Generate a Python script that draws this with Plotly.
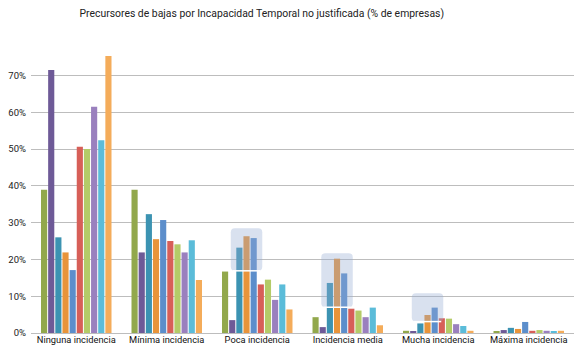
import plotly.graph_objects as go

categories = ["Ninguna incidencia", "Mínima incidencia", "Poca incidencia",
              "Incidencia media", "Mucha incidencia", "Máxima incidencia"]

series_values = [
    [38.9, 38.9, 16.7, 4.3, 0.6, 0.4],
    [71.5, 21.9, 3.5, 1.6, 0.4, 0.8],
    [26.0, 32.3, 23.2, 13.6, 2.6, 1.4],
    [21.9, 25.5, 26.3, 20.2, 4.9, 1.1],
    [17.1, 30.7, 25.8, 16.2, 6.9, 3.0],
    [50.6, 25.0, 13.2, 6.6, 4.0, 0.6],
    [50.0, 24.1, 14.5, 6.1, 3.9, 0.8],
    [61.5, 21.9, 9.0, 4.3, 2.4, 0.6],
    [52.4, 25.2, 13.2, 6.9, 1.9, 0.4],
    [75.3, 14.4, 6.4, 2.1, 0.6, 0.6],
]

colors = ["#92A84C", "#6E5A97", "#3C93B2", "#E8943A", "#5C8ECB",
          "#D75F58", "#B4CB68", "#9A80BE", "#5BBCD9", "#F4AC5A"]

tick_vals = [0, 10, 20, 30, 40, 50, 60, 70]
tick_text = ["0%", "10%", "20%", "30%", "40%", "50%", "60%", "70%"]

# highlighted groups: (category index, bottom %, top %)
highlight_cats = [2, 3, 4]
highlight_bottom = [16.9, 7.0, 3.1]
highlight_top = [28.5, 21.7, 10.8]

bargap = 0.21
n = len(series_values)

fig = go.Figure()
for vals, col in zip(series_values, colors):
    fig.add_trace(go.Bar(x=categories, y=vals, marker_color=col,
                         marker_line_width=0, showlegend=False))

slot = (1 - bargap) / n
shapes = []
px_x = 90.5
px_y = 3.676
rx = 4 / px_x
ry = 4 / px_y
for ci, yb, yt in zip(highlight_cats, highlight_bottom, highlight_top):
    x0 = ci - (1 - bargap) / 2 + 2 * slot - 5 / px_x
    x1 = ci - (1 - bargap) / 2 + 5 * slot + 5 / px_x
    path = (f"M {x0+rx},{yb} L {x1-rx},{yb} Q {x1},{yb} {x1},{yb+ry} "
            f"L {x1},{yt-ry} Q {x1},{yt} {x1-rx},{yt} L {x0+rx},{yt} "
            f"Q {x0},{yt} {x0},{yt-ry} L {x0},{yb+ry} Q {x0},{yb} {x0+rx},{yb} Z")
    shapes.append(dict(type="path", path=path, xref="x", yref="y",
                       fillcolor="rgba(150,172,212,0.36)", line_width=0,
                       layer="above"))
    shapes.append(dict(type="line", x0=x0 + 2 / px_x, x1=x1 - 2 / px_x, y0=yb, y1=yb,
                       xref="x", yref="y", line=dict(color="white", width=1.5),
                       layer="above"))

fig.update_layout(
    width=577, height=350,
    margin=dict(l=23, r=11, t=38, b=25),
    paper_bgcolor="white", plot_bgcolor="white",
    barmode="group", bargap=bargap, bargroupgap=0.14,
    font=dict(family="Roboto", color="#222222"),
    title=dict(text="Precursores de bajas por Incapacidad Temporal no justificada (% de empresas)",
               x=0.425, xref="paper", xanchor="center", y=0.985, yanchor="middle",
               font=dict(size=10.4, color="#222222")),
    shapes=shapes,
)
fig.update_xaxes(showline=False, ticks="", automargin=False,
                 tickfont=dict(size=9.3, color="#111111"))
fig.update_yaxes(range=[0, 78], tickvals=tick_vals, ticktext=tick_text, automargin=False,
                 showgrid=True, gridcolor="#BDBDBD", gridwidth=1,
                 zeroline=True, zerolinecolor="#BDBDBD", zerolinewidth=1,
                 tickfont=dict(size=9.5, color="#222222"), ticklabelstandoff=4)

fig.write_html("out.html")
